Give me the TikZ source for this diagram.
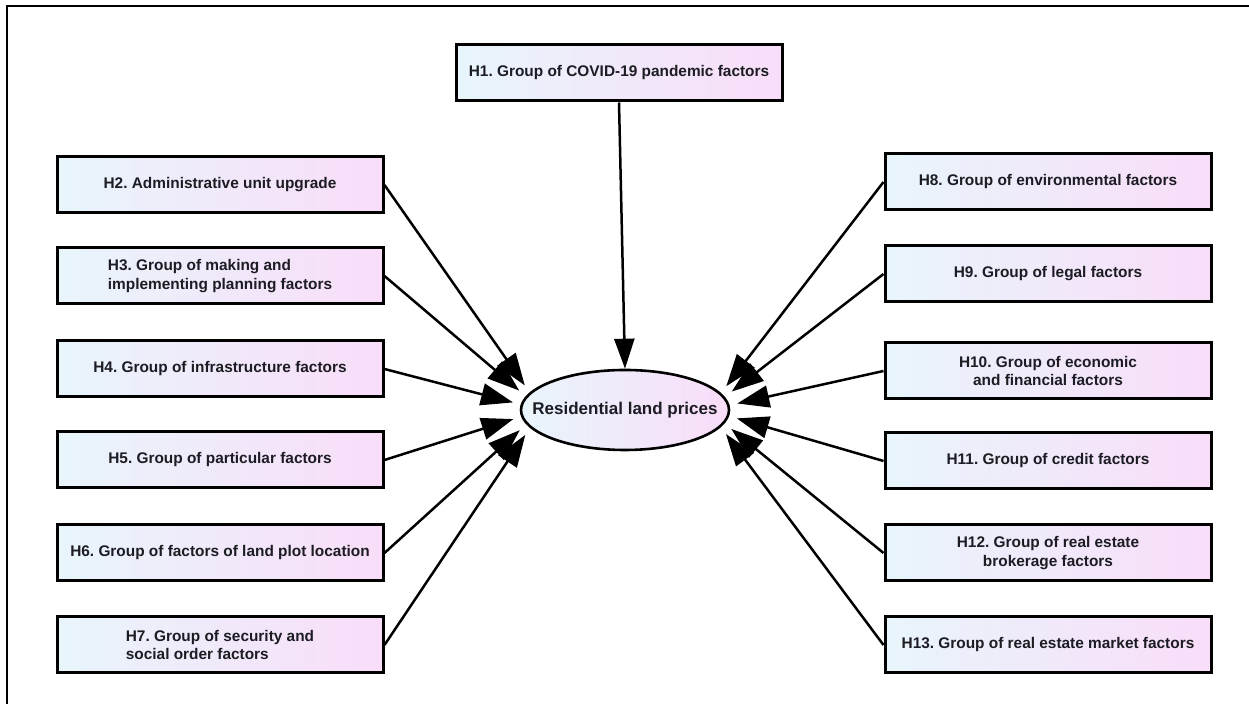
\documentclass[tikz,border=0pt]{standalone}
\usepackage{fontspec}
\setmainfont{Liberation Sans}
\usetikzlibrary{arrows.meta,shapes.geometric}
\frenchspacing
\definecolor{boxblue}{RGB}{232,245,251}
\definecolor{boxpink}{RGB}{249,221,249}
\definecolor{textgrey}{RGB}{28,28,34}
\tikzset{
    factor-box/.style = {draw=black, line width=1.5pt, rectangle, left color=boxblue, right color=boxpink, minimum width=163pt, minimum height=28pt, inner sep=2pt, align=center, font=\fontsize{7.7}{9.2}\selectfont\bfseries, text=textgrey},
    price-ellipse/.style = {draw=black, line width=1.3pt, ellipse, left color=boxblue, right color=boxpink, minimum width=104pt, minimum height=40pt, inner xsep=-10pt, inner ysep=0pt, font=\fontsize{8.5}{10}\selectfont\bfseries, text=textgrey},
    effect/.style = {line width=1.25pt, -{Triangle[length=16pt, width=11pt]}},
}
\begin{document}
\begin{tikzpicture}[x=0.5pt, y=-0.5pt]
\useasboundingbox (0,0) rectangle (1249,704);
\draw[line width=1.3pt] (7,704) -- (7,6) -- (1249,6);

\node[factor-box] (h1) at (619,73) {H1. Group of COVID-19 pandemic factors};
\node[price-ellipse] (price) at (625,410) {Residential land prices};

% left column
\node[factor-box] (h2) at (220,185) {H2. Administrative unit upgrade};
\node[factor-box, align=left] (h3) at (220,276) {H3. Group of making and\\implementing planning factors};
\node[factor-box] (h4) at (220,369) {H4. Group of infrastructure factors};
\node[factor-box] (h5) at (220,460) {H5. Group of particular factors};
\node[factor-box] (h6) at (220,553) {H6. Group of factors of land plot location};
\node[factor-box, align=left] (h7) at (220,645) {H7. Group of security and\\social order factors};

% right column
\node[factor-box] (h8) at (1048,182) {H8. Group of environmental factors};
\node[factor-box] (h9) at (1048,274) {H9. Group of legal factors};
\node[factor-box] (h10) at (1048,371) {H10. Group of economic\\and financial factors};
\node[factor-box] (h11) at (1048,461) {H11. Group of credit factors};
\node[factor-box] (h12) at (1048,553) {H12. Group of real estate\\brokerage factors};
\node[factor-box] (h13) at (1048,645) {H13. Group of real estate market factors};

\coordinate (left-focus) at (542,410);
\coordinate (right-focus) at (708,410);

\draw[effect, -{Triangle[length=15pt, width=10pt]}] (h1.south) -- (price.north);
\draw[effect, shorten >=15pt] (h2.east) -- (left-focus);
\draw[effect, shorten >=15pt] (h3.east) -- (left-focus);
\draw[effect, shorten >=15pt] (h4.east) -- (left-focus);
\draw[effect, shorten >=15pt] (h5.east) -- (left-focus);
\draw[effect, shorten >=15pt] (h6.east) -- (left-focus);
\draw[effect, shorten >=15pt] (h7.east) -- (left-focus);
\draw[effect, shorten >=15pt] (h8.west) -- (right-focus);
\draw[effect, shorten >=15pt] (h9.west) -- (right-focus);
\draw[effect, shorten >=15pt] (h10.west) -- (right-focus);
\draw[effect, shorten >=15pt] (h11.west) -- (right-focus);
\draw[effect, shorten >=15pt] (h12.west) -- (right-focus);
\draw[effect, shorten >=15pt] (h13.west) -- (right-focus);
\end{tikzpicture}
\end{document}
